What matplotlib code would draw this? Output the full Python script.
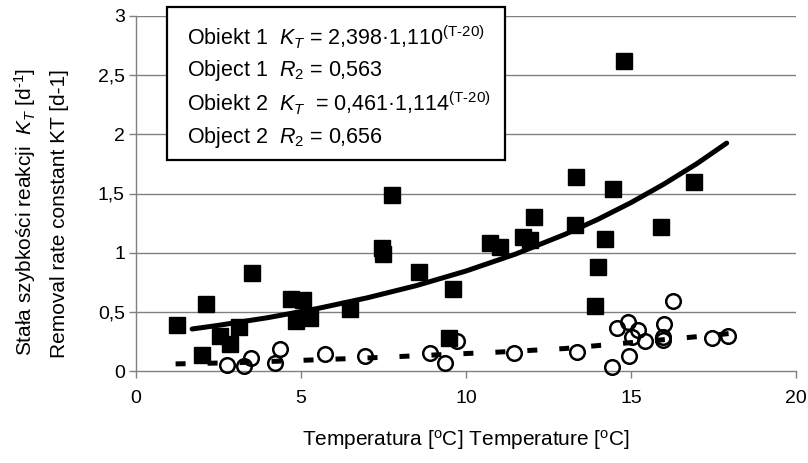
import matplotlib
matplotlib.use("Agg")
import matplotlib.pyplot as plt
from matplotlib.patches import Rectangle

plt.rcParams["font.family"] = ["Liberation Sans", "DejaVu Sans"]
plt.rcParams["mathtext.fontset"] = "custom"
plt.rcParams["mathtext.rm"] = "Liberation Sans"
plt.rcParams["mathtext.it"] = "Liberation Sans:italic"

# Object 1 (filled squares)
obj1_t = [1.23, 2.12, 1.99, 2.55, 2.85, 3.13, 3.52, 4.69, 5.05, 4.84, 5.27, 6.48,
          7.44, 7.47, 7.77, 8.58, 9.62, 9.47, 10.73, 11.03, 11.74, 11.94, 12.07,
          13.30, 13.33, 14.46, 14.21, 14.00, 13.90, 16.90, 15.90, 14.80]
obj1_k = [0.39, 0.57, 0.135, 0.30, 0.23, 0.37, 0.83, 0.61, 0.60, 0.42, 0.445, 0.52,
          1.04, 0.99, 1.49, 0.84, 0.69, 0.28, 1.085, 1.05, 1.135, 1.11, 1.30,
          1.23, 1.64, 1.54, 1.115, 0.88, 0.55, 1.595, 1.22, 2.62]

# Object 2 (open circles)
obj2_t = [2.75, 3.28, 3.48, 4.21, 4.36, 5.73, 6.94, 8.91, 9.36, 9.72, 11.45, 13.35,
          14.41, 14.57, 14.92, 15.22, 15.02, 15.42, 14.95, 16.01, 15.96, 15.96,
          16.26, 17.46, 17.95]
obj2_k = [0.05, 0.04, 0.11, 0.07, 0.19, 0.14, 0.13, 0.15, 0.065, 0.25, 0.15, 0.16,
          0.036, 0.36, 0.41, 0.35, 0.29, 0.25, 0.13, 0.40, 0.29, 0.26,
          0.594, 0.276, 0.30]

# trend lines
trend1_t = [1.7, 2.5, 4, 5.5, 7, 8.5, 10, 11.5, 13, 14, 15, 16, 17, 17.9]
trend1_k = [0.355, 0.386, 0.451, 0.528, 0.618, 0.722, 0.845, 0.988, 1.155, 1.282,
            1.423, 1.58, 1.753, 1.926]
trend2_t = [1.2, 3, 5, 7, 9, 11, 13, 15, 17, 18.1]
trend2_k = [0.06, 0.07, 0.09, 0.11, 0.135, 0.16, 0.19, 0.24, 0.29, 0.32]

x_ticks = [0, 5, 10, 15, 20]
y_ticks = [0, 0.5, 1, 1.5, 2, 2.5, 3]
y_tick_labels = ["0", "0,5", "1", "1,5", "2", "2,5", "3"]

legend_lines = [
    r"Obiekt 1  $K_{T}$ = 2,398·1,110$^{\text{(T-20)}}$",
    r"Object 1  $R_{2}$ = 0,563",
    r"Obiekt 2  $K_{T}$  = 0,461·1,114$^{\text{(T-20)}}$",
    r"Object 2  $R_{2}$ = 0,656",
]

W, H = 808, 463
fig = plt.figure(figsize=(W / 100, H / 100), dpi=100)
ax = fig.add_axes([136 / W, 1 - 371 / H, 660 / W, 355 / H])

ax.set_xlim(0, 20)
ax.set_ylim(0, 3)
ax.set_xticks(x_ticks)
ax.set_xticklabels([str(v) for v in x_ticks])
ax.set_yticks(y_ticks)
ax.set_yticklabels(y_tick_labels)
ax.tick_params(labelsize=14, colors="#808080", labelcolor="black", length=5, width=1)
ax.tick_params(axis="x", pad=9)
ax.tick_params(axis="y", pad=3)

for yv in y_ticks[1:]:
    ax.axhline(yv, color="#808080", lw=1, zorder=0)
for side in ("top", "right"):
    ax.spines[side].set_visible(False)
for side in ("left", "bottom"):
    ax.spines[side].set_color("#808080")
    ax.spines[side].set_linewidth(1)

ax.plot(obj1_t, obj1_k, ls="none", marker="s", ms=11, color="black", zorder=3,
        clip_on=False)
ax.plot(obj2_t, obj2_k, ls="none", marker="o", ms=10.5, mfc="none", mec="black",
        mew=1.8, zorder=4, clip_on=False)
ax.plot(trend1_t, trend1_k, color="black", lw=3.6, solid_capstyle="round",
        solid_joinstyle="round", zorder=5)
ax.plot(trend2_t, trend2_k, color="black", lw=3.6, dashes=(2, 4.4),
        dash_capstyle="butt", zorder=5)

# legend box (figure pixels)
box = Rectangle((167 / W, 1 - 160 / H), (505 - 167) / W, (160 - 7) / H,
                transform=fig.transFigure, facecolor="white", edgecolor="black",
                lw=1.6, zorder=10)
fig.patches.append(box)
for i, line in enumerate(legend_lines):
    fig.text(187 / W, 1 - (37 + 33.4 * i) / H, line, fontsize=15.5, va="center",
             ha="left", zorder=11)

fig.text(466 / W, 1 - 440 / H,
         r"Temperatura [$^{\mathrm{o}}$C] Temperature [$^{\mathrm{o}}$C]",
         fontsize=15, ha="center", va="center")
fig.text(25 / W, 1 - 212 / H, r"Stała szybkości reakcji  $K_{T}$ [d$^{\text{-1}}$]",
         fontsize=15, rotation=90, ha="center", va="center")
fig.text(60 / W, 1 - 214 / H, "Removal rate constant KT [d-1]",
         fontsize=15, rotation=90, ha="center", va="center")

fig.savefig("out.png", dpi=100)
